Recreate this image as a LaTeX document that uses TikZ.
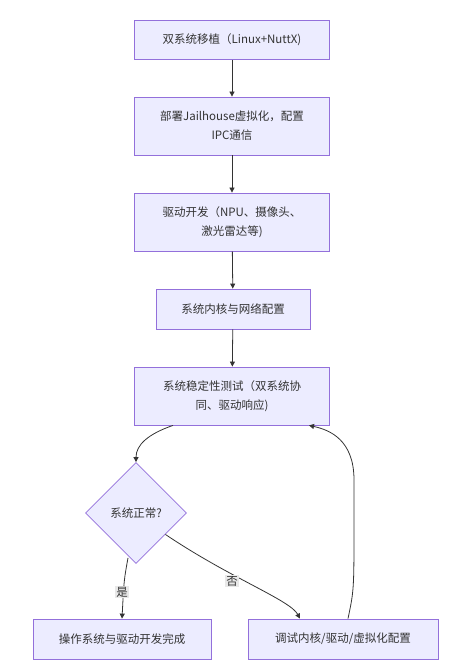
\documentclass[tikz,border=0pt]{standalone}
\usepackage{fontspec}
\setmainfont{Noto Sans CJK SC}
\usepackage{tikz}
\usetikzlibrary{shapes.geometric}
\usetikzlibrary{arrows.meta}

\definecolor{boxfill}{HTML}{ECECFF}
\definecolor{boxline}{HTML}{9370DB}
\definecolor{linkcol}{HTML}{333333}
\definecolor{lblfill}{HTML}{E8E8E8}

\tikzset{
  stepbox/.style={draw=boxline,fill=boxfill,line width=0.8pt,align=center,
    text=linkcol,font=\fontsize{11.5}{19}\selectfont,inner sep=0pt},
  choice/.style={draw=boxline,fill=boxfill,line width=0.8pt,diamond,shape aspect=1,
    minimum size=101pt,inner sep=0pt,text=linkcol,font=\fontsize{11.5}{19}\selectfont},
  flow/.style={draw=linkcol,line width=0.8pt,-{Triangle[length=5pt,width=5pt]}},
  lbl/.style={fill=lblfill,inner sep=1pt,text=linkcol,font=\fontsize{11.5}{13}\selectfont}
}

\begin{document}
\begin{tikzpicture}[x=1pt,y=-1pt]
% page frame
\useasboundingbox (0,0) rectangle (458,668);

% main chain of steps
\node[stepbox,minimum width=195pt,minimum height=39pt] (b1) at (232,40) {双系统移植（Linux+NuttX)};
\node[stepbox,minimum width=195pt,minimum height=58pt] (b2) at (232,126) {部署Jailhouse虚拟化，配置\\IPC通信};
\node[stepbox,minimum width=195pt,minimum height=58pt] (b3) at (232,222) {驱动开发（NPU、摄像头、\\激光雷达等)};
\node[stepbox,minimum width=154pt,minimum height=40pt] (b4) at (233,309) {系统内核与网络配置};
\node[stepbox,minimum width=195pt,minimum height=58pt] (b5) at (232,396) {系统稳定性测试（双系统协\\同、驱动响应)};

% decision and the two outcomes
\node[choice] (ok) at (136,513) {系统正常?};
\node[stepbox,minimum width=178pt,minimum height=40pt] (done) at (122,639) {操作系统与驱动开发完成};
\node[stepbox,minimum width=190pt,minimum height=40pt] (fix) at (343,639) {调试内核/驱动/虚拟化配置};

\foreach \a/\b in {b1/b2,b2/b3,b3/b4,b4/b5}{
  \draw[flow] (\a) -- (\b);
}

\draw[flow] ([xshift=-59pt]b5.south) .. controls (148,434) and (136,445) .. (ok.north);
\draw[flow] ([shift={(4,-4)}]ok.south east) .. controls (230,578) and (290,600) .. ([xshift=-43pt]fix.north);
\draw[flow] (ok.south) ++(-8,-6) .. controls (124,580) .. (done.north);
\draw[flow] ([xshift=5pt]fix.north) .. controls (354,590) .. (354,520) -- (354,480)
  .. controls (354,440) and (330,430) .. ([xshift=77pt]b5.south);

% edge labels
\node[lbl] (yes) at (122,592) {是};
\node[lbl] (no) at (232,581) {否};

\end{tikzpicture}
\end{document}
